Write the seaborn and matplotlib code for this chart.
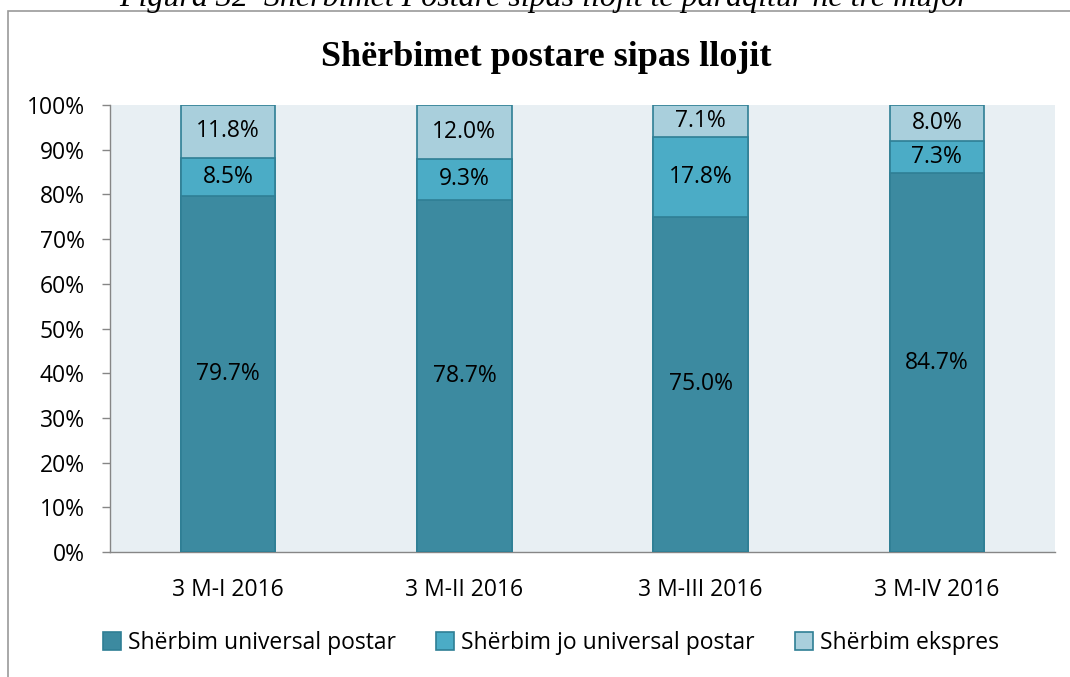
import matplotlib
matplotlib.use("Agg")
import matplotlib.pyplot as plt
from matplotlib.patches import Patch, Rectangle
import seaborn as sns
import pandas as pd
import numpy as np

categories = ["3 M-I 2016", "3 M-II 2016", "3 M-III 2016", "3 M-IV 2016"]
universal = [79.7, 78.7, 75.0, 84.7]
jo_universal = [8.5, 9.3, 17.8, 7.3]
ekspres = [11.8, 12.0, 7.1, 8.0]
series_names = ["Shërbim universal postar", "Shërbim jo universal postar", "Shërbim ekspres"]
colors = ["#3C8AA0", "#4BACC6", "#A9CFDC"]
edge = "#2F7F95"

sns.set_theme(style="white")
plt.rcParams['font.family'] = ['Open Sans', 'DejaVu Sans']
plt.rcParams['text.color'] = 'black'
plt.rcParams['xtick.color'] = 'black'
plt.rcParams['ytick.color'] = 'black'

FS = 16.5

df = pd.DataFrame({"cat": categories, "u": universal, "j": jo_universal, "e": ekspres})
df["c1"] = df["u"]
df["c2"] = df["u"] + df["j"]
df["c3"] = df["u"] + df["j"] + df["e"]

fig = plt.figure(figsize=(10.7, 6.77), dpi=100)
ax = fig.add_axes([110/1070, 1-552/677, (1055-110)/1070, (552-105)/677])
ax.set_facecolor("#E8EFF3")

for col, c in zip(["c3", "c2", "c1"], colors[::-1]):
    sns.barplot(data=df, x="cat", y=col, color=c, width=0.40, edgecolor=edge,
                linewidth=1.2, saturation=1, ax=ax, zorder=3)

ax.set_ylim(0, 100)
ax.set_xlim(-0.5, 3.5)
ax.set_yticks(np.arange(0, 101, 10))
ax.set_yticklabels([f"{v}%" for v in range(0, 101, 10)], fontsize=FS)
ax.set_xticks(range(4))
ax.set_xticklabels(categories, fontsize=FS)
ax.set_xlabel("")
ax.set_ylabel("")
ax.tick_params(axis="x", length=0, pad=18.5)
ax.set_xticks([-0.5, 0.5, 1.5, 2.5, 3.5], minor=True)
ax.tick_params(axis="x", which="minor", length=8, color="#868686", width=1, direction="out")
ax.tick_params(axis="y", length=6, color="#868686", width=1, direction="out", pad=12, left=True)
for s in ["top", "right"]:
    ax.spines[s].set_visible(False)
for s in ["left", "bottom"]:
    ax.spines[s].set_color("#868686")
    ax.spines[s].set_linewidth(1)

for i in range(4):
    u, j, e = universal[i], jo_universal[i], ekspres[i]
    ax.text(i, u/2, f"{u:.1f}%", ha="center", va="center", fontsize=FS, zorder=5)
    ax.text(i, u + j/2, f"{j:.1f}%", ha="center", va="center", fontsize=FS, zorder=5)
    ax.text(i, u + j + e/2, f"{e:.1f}%", ha="center", va="center", fontsize=FS, zorder=5)

fig.text(546/1070, 1-58/677, "Shërbimet postare sipas llojit", ha="center", va="center",
         fontsize=26, fontweight="bold", family=["Liberation Serif", "DejaVu Serif"])

fig.text(544/1070, 1-6/677, "Figura 32  Shërbimet Postare sipas llojit të paraqitur në tre mujor",
         ha="center", va="baseline", fontsize=23, style="italic",
         family=["Liberation Serif", "DejaVu Serif"])

fig.patches.append(Rectangle((8/1070, -0.05), 1.1, 1 - 11/677 + 0.05, transform=fig.transFigure,
                             fill=False, edgecolor="#9A9A9A", linewidth=1.2))

handles = [Patch(facecolor=c, edgecolor=edge, linewidth=1.2) for c in colors]
fig.legend(handles, series_names, loc="center", bbox_to_anchor=(551/1070, 1-643/677), ncol=3,
           frameon=False, fontsize=FS, handlelength=0.8, handleheight=0.8, handletextpad=0.3,
           columnspacing=1.75)

fig.savefig("out.png", dpi=100)
